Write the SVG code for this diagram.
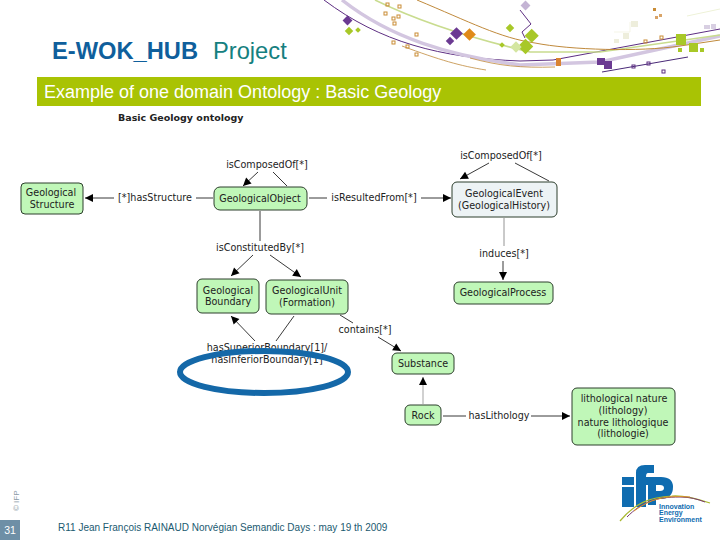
<svg xmlns="http://www.w3.org/2000/svg" width="720" height="540" viewBox="0 0 720 540">
<style>
text{font-family:"DejaVu Sans",sans-serif}
.n{stroke:#2c3e2c;stroke-width:1}
.g{fill:#c0f7b8}
.e{fill:#edf3f5}
.t{font-size:9.6px;fill:#222;text-anchor:middle}
.l{font-size:9.6px;fill:#222;text-anchor:middle}
.c{fill:none;stroke:#222;stroke-width:.9}
.d{fill:none}
.o{fill:none;stroke:#c98c35;stroke-width:1}
.s{font-family:"Liberation Sans",Arial,sans-serif}
.k{font-family:"Liberation Sans",Arial,sans-serif;font-size:7px;font-weight:700;fill:#0f6cb0}
</style>
<defs>
<marker id="a" markerWidth="10" markerHeight="10" refX="9" refY="5" orient="auto" markerUnits="userSpaceOnUse"><path d="M1 1L9 5L1 9Z" fill="#000"/></marker>
</defs>
<g id="decor">
<path class="d" d="M324 0C380 42 440 58 520 61L553 60L720 29" stroke="#5d2e82" stroke-width="1"/>
<path class="d" d="M520 10L531 24L522 32L525 38" stroke="#5d2e82" stroke-width="1"/>
<path class="d" d="M342 0C390 38 450 56 520 65L600 62L720 36" stroke="#d3c6e0" stroke-width="3.500"/>
<path class="d" d="M375 0C420 22 470 38 530 52L600 52L720 35" stroke="#c9dc8f" stroke-width="1.600"/>
<path class="d" d="M417 0C470 22 500 38 535 43C570 50 640 52 680 46L720 40" stroke="#c08a3c" stroke-width="1"/>
<path class="d" d="M402 46C440 60 460 66 486 70" stroke="#c08a3c" stroke-width=".8"/>
<path class="d" d="M470 58C500 66 520 68 555 67" stroke="#c08a3c" stroke-width=".8"/>
<path class="d" d="M602 72L688 57" stroke="#4a2a78" stroke-width="1"/>
<g fill="#6b3a92">
<rect x="344" y="17" width="7" height="7" transform="rotate(45 347.500 20.500)"/>
<rect x="452" y="29" width="9" height="9" transform="rotate(45 456.500 33.500)"/>
<rect x="447" y="38" width="6" height="6" transform="rotate(45 450 41)"/>
<rect x="597" y="58" width="8" height="7"/><rect x="604" y="61" width="8" height="8"/>
</g>
<rect x="465" y="30" width="9" height="9" fill="#e08a18" transform="rotate(45 469.500 34.500)"/>
<rect x="556" y="58" width="5" height="8" fill="#d98332"/>
<g fill="#a8c828">
<rect x="346" y="28" width="6" height="6" transform="rotate(45 349 31)"/>
<rect x="356" y="28" width="4" height="4" transform="rotate(45 358 30)"/>
<rect x="507" y="25" width="6" height="6" transform="rotate(45 510 28)"/>
<rect x="500" y="43" width="4" height="4" transform="rotate(45 502 45)"/>
<rect x="527" y="30" width="10" height="10" transform="rotate(45 531 35)"/>
<rect x="520" y="41" width="11" height="11" transform="rotate(45 525.500 46.500)"/>
<rect x="676" y="34" width="10" height="11"/>
<rect x="689" y="43" width="9" height="9"/>
<rect x="678" y="48" width="4" height="4"/>
<rect x="700" y="48" width="4" height="4"/>
</g>
<rect x="512" y="43" width="8" height="8" fill="#d4e6a0" transform="rotate(45 516 47)"/>
<rect x="522" y="2" width="7" height="7" fill="#c4b4d4" transform="rotate(45 525.500 5.500)"/>
<g fill="#eeeedc"><rect x="631" y="21" width="7" height="6"/><rect x="623" y="33" width="6" height="6"/><rect x="614" y="39" width="5" height="4"/></g>
<path d="M614 32H630V22" fill="none" stroke="#f0f0dc" stroke-width=".7"/>
<path d="M687 16L720 9" fill="none" stroke="#eef2d8" stroke-width="1"/>
<rect x="704" y="25" width="6" height="4" fill="#d8cfe2"/><rect x="711" y="24" width="5" height="5" fill="#d8cfe2"/>
<g class="o">
<rect x="386" y="3" width="3" height="3"/><rect x="398" y="5" width="3" height="3"/><rect x="384" y="12" width="3" height="3"/>
<rect x="392" y="17" width="3" height="3"/><rect x="397" y="15" width="3" height="3"/><rect x="393" y="22" width="3" height="3"/>
<rect x="415" y="33" width="3" height="3"/><rect x="392" y="41" width="3" height="3"/><rect x="406" y="45" width="3" height="3"/><rect x="415" y="53" width="3" height="3"/>
<rect x="644" y="40" width="3" height="3"/><rect x="660" y="36" width="3" height="3"/>
</g>
<rect x="653" y="8" width="3" height="3" fill="#c98c35"/><rect x="655" y="16" width="3" height="3" fill="#d9a468"/><rect x="659" y="14" width="3" height="3" fill="#d9a468"/>
<g fill="none" stroke="#5d2e82"><rect x="632" y="65" width="3" height="3"/><rect x="647" y="62" width="3" height="3"/><rect x="662" y="70" width="3" height="3"/></g>
</g>
<text class="s" x="52" y="59" font-size="23.700" font-weight="700" fill="#0f5f9c">E-WOK_HUB</text>
<text class="s" x="213" y="59" font-size="23.700" fill="#158080">Project</text>
<rect x="37" y="77" width="664" height="29" fill="#a9c304"/>
<text class="s" x="44" y="98" font-size="18" fill="#fff">Example of one domain Ontology : Basic Geology</text>
<text x="118" y="121" font-size="9.500" font-weight="700" fill="#222">Basic Geology ontology</text>
<g id="connectors">
<path class="c" d="M114 198H85" marker-end="url(#a)"/>
<path class="c" d="M213 198H196"/>
<path class="c" d="M309 198H327"/>
<path class="c" d="M421 198H451" marker-end="url(#a)"/>
<path class="c" d="M258 172L243 186" marker-end="url(#a)"/>
<path class="c" d="M273 172L287 186"/>
<path class="c" d="M489 163L460 179" marker-end="url(#a)"/>
<path class="c" d="M515 163L549 181"/>
<path class="c" d="M260 211V241"/>
<path class="c" d="M253 255L231 276" marker-end="url(#a)"/>
<path class="c" d="M270 255L301 277" marker-end="url(#a)"/>
<path class="c" d="M504 218V246" style="stroke:#888"/>
<path class="c" d="M503 261V280" marker-end="url(#a)"/>
<path class="c" d="M255 341L231 316" marker-end="url(#a)"/>
<path class="c" d="M276 341L294 316"/>
<path class="c" d="M340 315L353 323"/>
<path class="c" d="M378 337L401 351" marker-end="url(#a)"/>
<path class="c" d="M423 404V377" style="stroke:#999" marker-end="url(#a)"/>
<path class="c" d="M443 416H466"/>
<path class="c" d="M531 416H570" marker-end="url(#a)"/>
</g>
<g id="geological-structure"><rect class="n g" x="21" y="183" width="62" height="31" rx="4"/><text class="t" x="51" y="196">Geological</text><text class="t" x="52" y="208">Structure</text></g>
<g id="geological-object"><rect class="n g" x="214" y="187" width="93" height="23" rx="6"/><text class="t" x="260" y="201.500">GeologicalObject</text></g>
<g id="geological-event"><rect class="n e" x="452" y="182" width="105" height="35" rx="5"/><text class="t" x="504" y="197">GeologicalEvent</text><text class="t" x="504" y="209">(GeologicalHistory)</text></g>
<g id="geological-process"><rect class="n g" x="454" y="282" width="99" height="22" rx="5"/><text class="t" x="503" y="296">GeologicalProcess</text></g>
<g id="geological-boundary"><rect class="n g" x="197" y="279" width="62" height="34" rx="5"/><text class="t" x="228" y="294">Geological</text><text class="t" x="228" y="305">Boundary</text></g>
<g id="geological-unit"><rect class="n g" x="266" y="280" width="82" height="34" rx="5"/><text class="t" x="307" y="294">GeologicalUnit</text><text class="t" x="307" y="306">(Formation)</text></g>
<g id="substance"><rect class="n g" x="392" y="353" width="62" height="21" rx="5"/><text class="t" x="423" y="367">Substance</text></g>
<g id="rock"><rect class="n g" x="405" y="405" width="36" height="20" rx="5"/><text class="t" x="423" y="419">Rock</text></g>
<g id="lithology"><rect class="n g" x="572" y="388" width="103" height="57" rx="5"/><text class="t" x="624" y="402">lithological nature</text><text class="t" x="623" y="414">(lithology)</text><text class="t" x="623" y="426">nature lithologique</text><text class="t" x="623" y="437">(lithologie)</text></g>
<g id="labels">
<text class="l" x="155" y="201">[*]hasStructure</text>
<text class="l" x="267" y="168">isComposedOf[*]</text>
<text class="l" x="374" y="201">isResultedFrom[*]</text>
<text class="l" x="501" y="159">isComposedOf[*]</text>
<text class="l" x="260" y="251">isConstitutedBy[*]</text>
<text class="l" x="504" y="257">induces[*]</text>
<text class="l" x="365" y="333">contains[*]</text>
<text class="l" x="267" y="351">hasSuperiorBoundary[1]/</text>
<text class="l" x="267" y="363">hasInferiorBoundary[1]</text>
<text class="l" x="499" y="419">hasLithology</text>
</g>
<ellipse cx="264" cy="372" rx="84" ry="21" fill="none" stroke="#1468a8" stroke-width="6"/>
<text class="s" transform="translate(19 511) rotate(-90)" font-size="8" fill="#8a9aa6">© IFP</text>
<rect x="0" y="520" width="20" height="20" fill="#6e8fa6"/>
<text class="s" x="10" y="534" font-size="10.500" fill="#fff" text-anchor="middle">31</text>
<text class="s" x="58" y="531" font-size="10" fill="#1a5a70">R11 Jean François RAINAUD Norvégian Semandic Days : may 19 th 2009</text>
<g id="logo">
<rect x="622" y="477" width="12" height="8" fill="#0f6cb0"/>
<rect x="622" y="487" width="12" height="20" fill="#0f6cb0"/>
<path fill-rule="evenodd" fill="#0f6cb0" d="M636 507V473Q636 465 645 465H654V473H648Q646 473 646 477H661Q673 477 673 487Q673 499 660 499H656V505H648V485H646V507ZM656 485V491H660Q664 491 664 488Q664 485 660 485Z"/>
<path d="M620 521C635 503 650 497 672 496C685 495 698 499 710 503" fill="none" stroke="#a9b830" stroke-width="1.200"/>
<path d="M627 517C642 502 655 497 680 497C690 497 697 499 705 502" fill="none" stroke="#7a3a6e" stroke-width="1"/>
<path d="M634 511C650 499 665 495 690 497" fill="none" stroke="#d8922c" stroke-width="1"/>
<text class="k" x="659" y="508.500">Innovation</text>
<text class="k" x="659" y="515">Energy</text>
<text class="k" x="659" y="521.500">Environment</text>
</g>
</svg>
